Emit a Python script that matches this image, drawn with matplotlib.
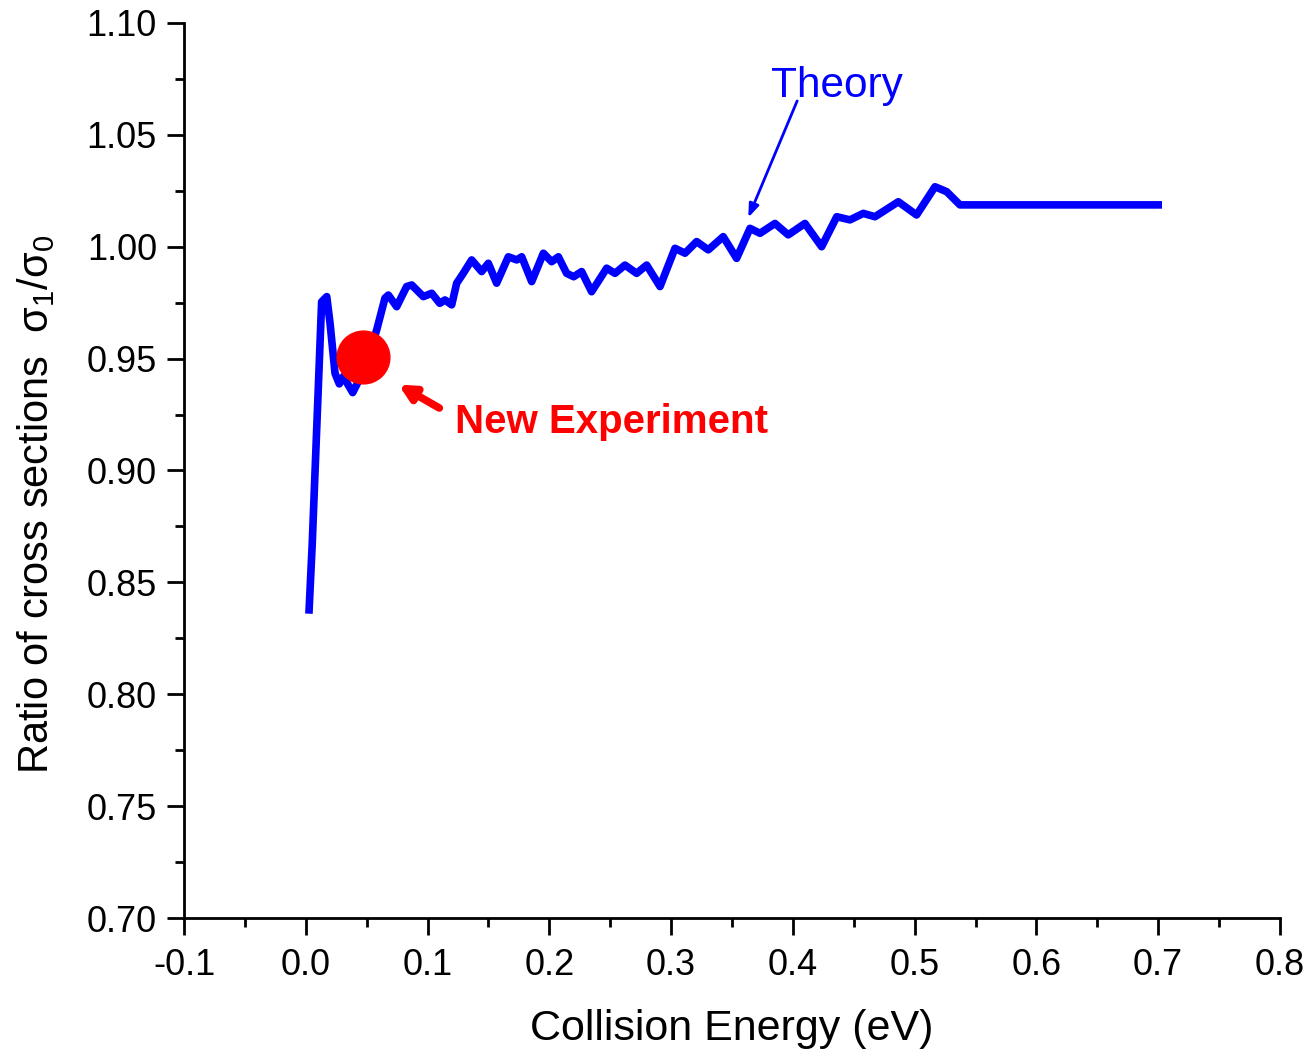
import matplotlib
matplotlib.use("Agg")
import matplotlib.pyplot as plt
from matplotlib.ticker import MultipleLocator

plt.rcParams['font.family'] = ['Liberation Sans', 'DejaVu Sans']
plt.rcParams['mathtext.fontset'] = 'custom'
plt.rcParams['mathtext.rm'] = 'Liberation Sans'
plt.rcParams['mathtext.it'] = 'Liberation Sans'

# Theory curve (collision energy in eV, ratio sigma1/sigma0)
energy = [0.0027, 0.0053, 0.0130, 0.0172, 0.0199, 0.0240, 0.0275, 0.0308, 0.0385,
          0.0480, 0.0582, 0.0650, 0.0678, 0.0746, 0.0828, 0.0870, 0.0965, 0.1034,
          0.1100, 0.1143, 0.1198, 0.1239, 0.1293, 0.1362, 0.1444, 0.1499, 0.1567,
          0.1663, 0.1732, 0.1773, 0.1855, 0.1951, 0.2019, 0.2074, 0.2142, 0.2200,
          0.2265, 0.2347, 0.2471, 0.2539, 0.2621, 0.2717, 0.2799, 0.2909, 0.3032,
          0.3114, 0.3210, 0.3305, 0.3428, 0.3538, 0.3648, 0.3730, 0.3853, 0.3962,
          0.4099, 0.4236, 0.4360, 0.4469, 0.4578, 0.4674, 0.4866, 0.5016, 0.5167,
          0.5263, 0.5372, 0.5500, 0.6000, 0.6500, 0.7000]
ratio = [0.8377, 0.8676, 0.9754, 0.9777, 0.9658, 0.9434, 0.9387, 0.9420, 0.9348,
         0.9450, 0.9628, 0.9770, 0.9784, 0.9732, 0.9822, 0.9829, 0.9777, 0.9792,
         0.9747, 0.9762, 0.9740, 0.9837, 0.9881, 0.9941, 0.9889, 0.9926, 0.9837,
         0.9955, 0.9941, 0.9955, 0.9844, 0.9971, 0.9933, 0.9955, 0.9881, 0.9866,
         0.9889, 0.9799, 0.9904, 0.9881, 0.9918, 0.9881, 0.9918, 0.9822, 0.9993,
         0.9971, 1.0023, 0.9986, 1.0045, 0.9948, 1.0082, 1.0060, 1.0104, 1.0053,
         1.0104, 1.0000, 1.0134, 1.0120, 1.0149, 1.0134, 1.0201, 1.0142, 1.0268,
         1.0246, 1.0187, 1.0187, 1.0187, 1.0187, 1.0187]

# experimental point
exp_energy = [0.0467]
exp_ratio = [0.9509]

fig = plt.figure(figsize=(13.09, 10.53), dpi=100)
ax = fig.add_axes([0.1406, 0.1282, 0.8372, 0.85])

ax.plot(energy, ratio, color='#0000ff', lw=5.5, solid_joinstyle='round', zorder=2)
ax.plot(exp_energy, exp_ratio, 'o', color='#ff0000', ms=38, zorder=3)

ax.annotate('', xy=(0.3625, 1.0119), xytext=(0.4044, 1.0663),
            arrowprops=dict(arrowstyle='-|>,head_length=0.8,head_width=0.3',
                            color='#0000ff', lw=2))
ax.text(0.3818, 1.0718, 'Theory', color='#0000ff', fontsize=30.5,
        ha='left', va='center')

ax.annotate('', xy=(0.0741, 0.9390), xytext=(0.1116, 0.9273),
            arrowprops=dict(arrowstyle='-|>,head_length=0.9,head_width=0.45',
                            color='#ff0000', lw=5.5))
ax.text(0.1225, 0.9217, 'New Experiment', color='#ff0000', fontsize=29,
        fontweight='bold', ha='left', va='center')

ax.set_xlim(-0.1, 0.8)
ax.set_ylim(0.70, 1.10)
ax.xaxis.set_major_locator(MultipleLocator(0.1))
ax.xaxis.set_minor_locator(MultipleLocator(0.05))
ax.yaxis.set_major_locator(MultipleLocator(0.05))
ax.yaxis.set_minor_locator(MultipleLocator(0.025))
ax.set_xticklabels([f'{v:.1f}' for v in ax.get_xticks()])
ax.set_yticklabels([f'{v:.2f}' for v in ax.get_yticks()])

for s in ['top', 'right']:
    ax.spines[s].set_visible(False)
for s in ['left', 'bottom']:
    ax.spines[s].set_linewidth(2)
ax.tick_params(which='major', direction='out', length=12.5, width=2,
               labelsize=26)
ax.tick_params(axis='x', which='major', pad=9)
ax.tick_params(axis='y', which='major', pad=7)
ax.tick_params(which='minor', direction='out', length=6.5, width=2)

ax.set_xlabel('Collision Energy (eV)', fontsize=31, labelpad=19)
ax.set_ylabel(r'Ratio of cross sections  $\sigma_1$/$\sigma_0$', fontsize=30,
              labelpad=21)
ax.yaxis.label.set_y(0.462)

fig.savefig('out.png', dpi=100)
